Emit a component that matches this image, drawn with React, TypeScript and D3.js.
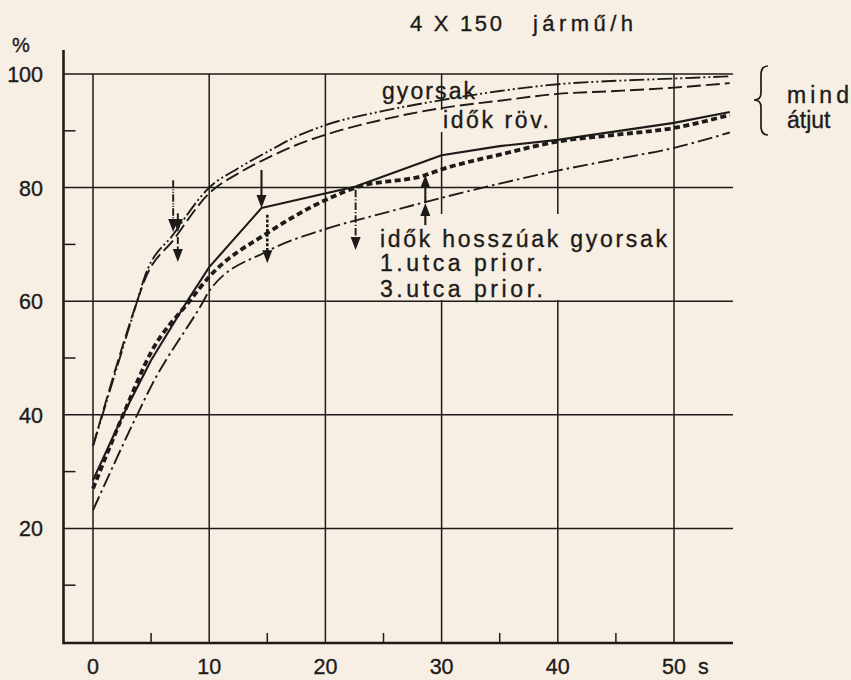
import React from "react";
import * as d3 from "d3";

// ---- data ----
const xTicks = [0, 10, 20, 30, 40, 50];
const xTickLabels = ["0", "10", "20", "30", "40", "50"];
const xMinor = [5, 15, 25, 35, 45];
const yTicks = [20, 40, 60, 80, 100];
const yTickLabels = ["20", "40", "60", "80", "100"];
const yMinor = [10, 30, 50, 70, 90];

// upper pair
const upperT = [0, 3.8, 4.4, 7, 10, 12.5, 15, 17.5, 20, 25, 30, 35, 40, 45, 50, 54.8];
const gyorsakV = [34.5, 60, 64, 72, 80, 83.4, 86.3, 89, 91, 93.5, 95.4, 97, 98.2, 98.8, 99.2, 99.6];
const rovV = [34.5, 60, 63.5, 71, 79, 82.5, 85.2, 87.5, 89.3, 92, 94, 95.3, 96.5, 97, 97.6, 98.4];

// lower group
const solidT = [0, 2.6, 5, 8.1, 10, 14.5, 22.6, 30, 35, 40, 50, 54.8];
const solidV = [28.5, 40, 49.6, 60, 66, 76.4, 80.2, 85.7, 87.3, 88.4, 91.4, 93.3];
const thickT = [0, 2.6, 5, 8.3, 10, 15, 20, 22.6, 28.6, 30, 35, 40, 45, 50, 54.8];
const thickV = [27, 40, 51, 60, 64.3, 72, 77.8, 80, 82.2, 83.2, 85.8, 88.1, 89.3, 90.5, 92.8];
const dashdotT = [0, 3.8, 5, 9.5, 10, 15, 20, 25, 30, 35, 40, 45, 50, 54.8];
const dashdotV = [23.2, 40, 45, 60, 61.8, 68.8, 72.7, 75.5, 78.2, 80.7, 83, 85, 87, 89.7];

// arrows: x position, start value, tip value, style
const arrowT = [6.9, 7.3, 7.3, 14.5, 15.0, 22.6, 28.6, 28.6];
const arrowFrom = [81.3, 75.5, 71.3, 83.1, 75.2, 79.6, 73.4, 77.3];
const arrowTo = [72.2, 72.2, 66.9, 76.4, 66.7, 69.0, 77.3, 82.2];
const arrowStyle = ["gy", "rov", "rov", "solid", "thick", "dd", "solid", "solid"];

const INK = "#1d1b19";
const BG = "#f7efe3";

const styles: Record<string, { dash?: string; w: number }> = {
  gy: { dash: "15 3 2 3 2 3", w: 1.9 },
  rov: { dash: "14 5", w: 1.9 },
  solid: { w: 2.1 },
  thick: { dash: "6 3.5", w: 3.8 },
  dd: { dash: "15 4 2.5 4", w: 1.9 },
};

export default function App() {
  const x = d3.scaleLinear().domain([0, 50]).range([93, 674]);
  const y = d3.scaleLinear().domain([0, 100]).range([642, 74]);
  const axisX = 63.5;
  const axisY = 643;
  const right = 733;

  const mk = (ts: number[], vs: number[], curve: any) =>
    d3
      .line<number>()
      .x((_, i) => x(ts[i]))
      .y((v) => y(v))
      .curve(curve)(vs) as string;

  const series = [
    { d: mk(upperT, gyorsakV, d3.curveMonotoneX), s: styles.gy },
    { d: mk(upperT, rovV, d3.curveMonotoneX), s: styles.rov },
    { d: mk(solidT, solidV, d3.curveLinear), s: styles.solid },
    { d: mk(thickT, thickV, d3.curveMonotoneX), s: styles.thick },
    { d: mk(dashdotT, dashdotV, d3.curveMonotoneX), s: styles.dd },
  ];

  const font = "'Liberation Sans', Arial, sans-serif";
  const tx = { fill: INK, stroke: INK, strokeWidth: 0.35 };

  return (
    <svg
      width={851}
      height={680}
      style={{ position: "absolute", left: 0, top: 0, display: "block" }}
      fontFamily={font}
    >
      <rect x={0} y={0} width={851} height={680} fill={BG} />

      {/* grid */}
      {yTicks.map((v) => (
        <line key={"h" + v} x1={axisX} x2={right} y1={y(v)} y2={y(v)} stroke={INK} strokeWidth={1.5} />
      ))}
      {xTicks.map((t) => (
        <line key={"v" + t} x1={x(t)} x2={x(t)} y1={y(100)} y2={axisY} stroke={INK} strokeWidth={1.5} />
      ))}
      {yMinor.map((v) => (
        <line key={"ym" + v} x1={axisX} x2={axisX + 12} y1={y(v)} y2={y(v)} stroke={INK} strokeWidth={1.5} />
      ))}
      {xMinor.map((t) => (
        <line key={"xm" + t} x1={x(t)} x2={x(t)} y1={axisY} y2={axisY - 10} stroke={INK} strokeWidth={1.5} />
      ))}
      {/* axes */}
      <line x1={axisX} x2={axisX} y1={50} y2={axisY + 1.3} stroke={INK} strokeWidth={2.6} />
      <line x1={axisX} x2={right} y1={axisY} y2={axisY} stroke={INK} strokeWidth={2.6} />

      {/* masks behind labels */}
      <rect x={378} y={214} width={294} height={86} fill={BG} />
      <rect x={438} y={110} width={112} height={22} fill={BG} />

      {/* curves */}
      {series.map((sr, i) => (
        <path
          key={"s" + i}
          d={sr.d}
          fill="none"
          stroke={INK}
          strokeWidth={sr.s.w}
          strokeDasharray={sr.s.dash}
          strokeLinejoin="round"
        />
      ))}

      {/* arrows */}
      {arrowT.map((t, i) => {
        const st = styles[arrowStyle[i]];
        const ax = x(t);
        const y0 = y(arrowFrom[i]);
        const y1 = y(arrowTo[i]);
        const dir = y1 > y0 ? 1 : -1;
        const hl = 13;
        const hw = 5;
        return (
          <g key={"a" + i}>
            <line
              x1={ax}
              x2={ax}
              y1={y0}
              y2={y1 - dir * hl * 0.6}
              stroke={INK}
              strokeWidth={Math.min(st.w, 2.6)}
              strokeDasharray={st.dash ? st.dash.split(" ").map((n) => +n * 0.5).join(" ") : undefined}
            />
            <path
              d={`M${ax},${y1} L${ax - hw},${y1 - dir * hl} L${ax + hw},${y1 - dir * hl} Z`}
              fill={INK}
            />
          </g>
        );
      })}

      {/* tick labels */}
      {yTicks.map((v, i) => (
        <text key={"yl" + v} x={43} y={y(v) + 8} fontSize={21.5} textAnchor="end" {...tx}>
          {yTickLabels[i]}
        </text>
      ))}
      {xTicks.map((t, i) => (
        <text key={"xl" + t} x={x(t)} y={674} fontSize={21.5} textAnchor="middle" {...tx}>
          {xTickLabels[i]}
        </text>
      ))}
      <text x={698} y={674} fontSize={21.5} {...tx}>s</text>
      <text x={12} y={52} fontSize={20} {...tx}>%</text>

      {/* title */}
      <text x={410} y={31} fontSize={22} textLength={92} lengthAdjust="spacing" {...tx}>4 X 150</text>
      <text x={533} y={31} fontSize={22} textLength={100} lengthAdjust="spacing" {...tx}>jármű/h</text>

      {/* annotations */}
      <text x={382} y={99} fontSize={23} textLength={93} lengthAdjust="spacing" {...tx}>gyorsak</text>
      <text x={443} y={128} fontSize={23} textLength={106} lengthAdjust="spacing" {...tx}>idők röv.</text>
      <text x={380} y={247} fontSize={23} textLength={287} lengthAdjust="spacing" {...tx}>idők hosszúak gyorsak</text>
      <text x={380} y={271} fontSize={23} textLength={163} lengthAdjust="spacing" {...tx}>1.utca  prior.</text>
      <text x={380} y={297} fontSize={23} textLength={163} lengthAdjust="spacing" {...tx}>3.utca  prior.</text>

      <path
        d="M768,66 Q761,66 761,75 L761,93 Q761,100 754,100 Q761,100 761,107 L761,126 Q761,135 768,135"
        fill="none"
        stroke={INK}
        strokeWidth={1.7}
      />
      <text x={787} y={103} fontSize={23} textLength={62} lengthAdjust="spacing" {...tx}>mind</text>
      <text x={787} y={128} fontSize={23} {...tx}>átjut</text>
    </svg>
  );
}
